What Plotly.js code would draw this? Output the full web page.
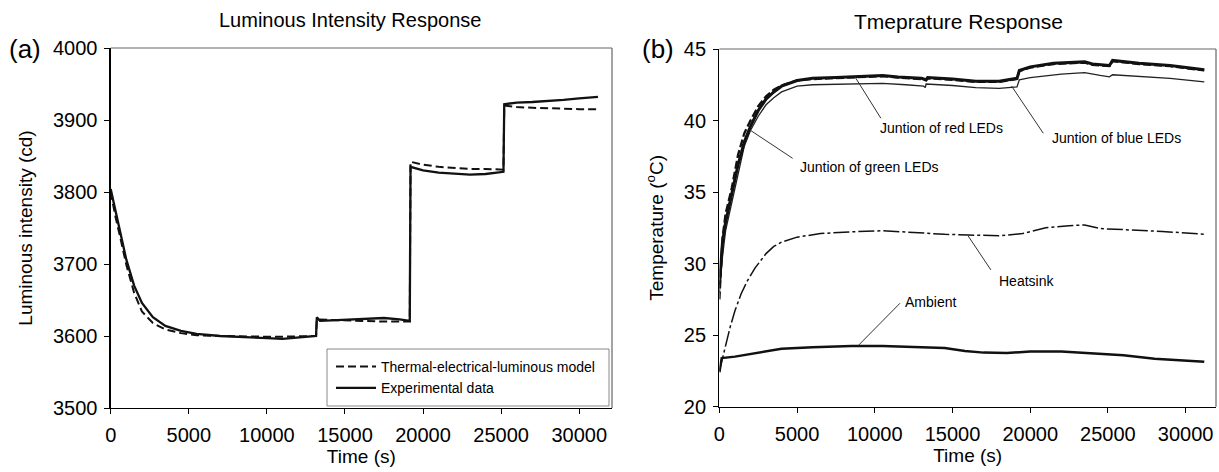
<!DOCTYPE html>
<html><head><meta charset="utf-8">
<script src="https://cdn.plot.ly/plotly-3.0.1.min.js"></script>
<style>html,body{margin:0;padding:0;background:#fff}#chart{width:1219px;height:472px}</style>
</head><body><div id="chart"></div>
<script>
// ---------- Panel (a): luminous intensity ----------
const timeModel = [0,300,600,1000,1500,2000,2700,3500,4500,5500,7000,8500,10000,11000,12000,13150,13200,14500,16000,17500,18500,19150,19200,20000,21000,22000,23000,24000,25150,25200,26000,27000,28000,29000,30000,31200];
const lumModel  = [3800,3766,3738,3699,3660,3634,3618,3609,3604,3601,3600,3599,3599,3599,3599,3600,3623,3622,3621,3620,3620,3620,3842,3838,3835,3833,3832,3832,3831,3920,3918,3917,3916,3915,3915,3915];
const timeExp = [0,300,600,1000,1500,2000,2700,3500,4500,5500,7000,8500,10000,11000,12000,13150,13200,13400,14500,16000,17500,18500,19150,19200,20000,21000,22000,23000,24000,25150,25200,26000,27000,28000,29000,30000,31200];
const lumExp  = [3804,3775,3747,3706,3670,3646,3626,3614,3607,3603,3600,3599,3597,3596,3598,3600,3626,3621,3622,3624,3625,3623,3621,3835,3830,3827,3825,3824,3825,3828,3922,3924,3925,3926,3928,3930,3932];

// ---------- Panel (b): temperatures ----------
const timeRed = [0,200,400,800,1200,1600,2000,2500,3000,3500,4000,5000,6000,7500,9000,10500,11500,13000,13300,13400,15000,16500,18000,19150,19300,20000,21500,23500,24000,25100,25300,27000,29000,31200];
const tempRed = [28.5,31.5,32.9,34.8,36.9,38.5,39.6,40.7,41.5,42.0,42.4,42.8,42.95,43.0,43.05,43.15,43.05,42.95,42.85,43.0,42.9,42.75,42.75,42.95,43.5,43.75,44.0,44.1,43.95,43.85,44.2,44.0,43.85,43.55];
const timeGreen = [0,200,400,800,1200,1600,2000,2500,3000,3500,4000,5000,6000,7500,9000,10500,11500,13000,13300,13400,15000,16500,18000,19150,19300,20000,21500,23500,24000,25100,25300,27000,29000,31200];
const tempGreen = [27.5,31.8,33.5,35.3,37.6,39.1,40.0,41.0,41.7,42.15,42.45,42.8,42.9,42.95,43.0,43.1,43.0,42.9,42.8,42.95,42.85,42.7,42.7,42.9,43.45,43.7,43.95,44.05,43.9,43.8,44.15,43.95,43.8,43.5];
const timeBlue = [0,200,400,800,1200,1600,2000,2500,3000,3500,4000,5000,6000,7500,9000,10500,12000,13150,13250,13300,15000,16500,18000,19150,19300,20000,22000,23500,24500,25100,25300,27000,29000,31200];
const tempBlue = [28.0,30.5,32.3,34.3,36.4,38.2,39.3,40.3,41.1,41.6,42.0,42.4,42.5,42.55,42.6,42.6,42.5,42.4,42.3,42.55,42.45,42.3,42.25,42.35,42.85,43.0,43.25,43.35,43.15,43.05,43.2,43.1,42.95,42.7];
const timeHeatsink = [0,200,400,700,1000,1400,1800,2300,3000,3500,4000,5000,6500,8000,10500,12500,14500,16000,18000,19500,21000,22500,23500,24500,26500,28500,31200];
const tempHeatsink = [22.5,23.4,24.4,25.6,26.7,27.9,28.8,29.7,30.7,31.2,31.5,31.85,32.1,32.2,32.3,32.15,32.05,32.0,31.95,32.1,32.5,32.65,32.7,32.45,32.35,32.25,32.05];
const timeAmbient = [0,150,1000,2000,4000,6000,8500,10500,12500,14500,15800,17000,18500,20000,22000,24000,26000,28000,31200];
const tempAmbient = [22.4,23.4,23.5,23.7,24.05,24.15,24.25,24.25,24.15,24.1,23.9,23.78,23.75,23.85,23.85,23.75,23.6,23.35,23.15];

// labels for panel (b)
const labelText = ["Juntion of red LEDs","Juntion of blue LEDs","Juntion of green LEDs","Heatsink","Ambient"];
const labelX = [14300,25560,9685,19770,13610];
const labelY = [39.46,38.76,36.78,28.79,27.34];
const leaderX0 = [10390,20840,4710,17470,11620];
const leaderY0 = [40.16,39.11,37.36,29.56,27.23];
const leaderX1 = [8720,18800,1963,16010,8930];
const leaderY1 = [43.06,42.41,39.34,31.93,24.27];

const FONT = 'Arial, "Liberation Sans", sans-serif';
const W = 1219, H = 472;

const traces = [
  {x: timeModel, y: lumModel, xaxis:'x', yaxis:'y', mode:'lines', name:'Thermal-electrical-luminous model',
   line:{color:'#111', width:2, dash:'8px,4px'}},
  {x: timeExp, y: lumExp, xaxis:'x', yaxis:'y', mode:'lines', name:'Experimental data',
   line:{color:'#111', width:2.3}},
  {x: timeBlue, y: tempBlue, xaxis:'x2', yaxis:'y2', mode:'lines', showlegend:false,
   line:{color:'#222', width:1.3}},
  {x: timeGreen, y: tempGreen, xaxis:'x2', yaxis:'y2', mode:'lines', showlegend:false,
   line:{color:'#111', width:2.3, dash:'8px,3px'}},
  {x: timeRed, y: tempRed, xaxis:'x2', yaxis:'y2', mode:'lines', showlegend:false,
   line:{color:'#111', width:3}},
  {x: timeHeatsink, y: tempHeatsink, xaxis:'x2', yaxis:'y2', mode:'lines', showlegend:false,
   line:{color:'#111', width:1.5, dash:'16px,3px,3px,3px'}},
  {x: timeAmbient, y: tempAmbient, xaxis:'x2', yaxis:'y2', mode:'lines', showlegend:false,
   line:{color:'#111', width:2.5}}
];

const axisCommon = {
  showgrid:false, zeroline:false, showline:true, linecolor:'#000', linewidth:1.3,
  ticks:'outside', ticklen:5, tickwidth:1, tickcolor:'#000',
  tickfont:{family:FONT, size:20, color:'#000'}
};

const annotations = [
  {text:'Luminous Intensity Response', xref:'paper', yref:'paper', x:350/W, y:1-20/H, showarrow:false,
   font:{family:FONT, size:20, color:'#000'}, xanchor:'center', yanchor:'middle'},
  {text:'Tmeprature Response', xref:'paper', yref:'paper', x:958/W, y:1-22/H, showarrow:false,
   font:{family:FONT, size:21, color:'#000'}, xanchor:'center', yanchor:'middle'},
  {text:'(a)', xref:'paper', yref:'paper', x:25/W, y:1-49/H, showarrow:false,
   font:{family:FONT, size:26, color:'#000'}, xanchor:'center', yanchor:'middle'},
  {text:'(b)', xref:'paper', yref:'paper', x:658/W, y:1-49/H, showarrow:false,
   font:{family:FONT, size:26, color:'#000'}, xanchor:'center', yanchor:'middle'}
];
const shapes = [];
for (let i = 0; i < labelText.length; i++) {
  annotations.push({text: labelText[i], xref:'x2', yref:'y2', x: labelX[i], y: labelY[i], showarrow:false,
    font:{family:FONT, size:14, color:'#000'}, xanchor:'center', yanchor:'middle'});
  shapes.push({type:'line', xref:'x2', yref:'y2', x0: leaderX0[i], y0: leaderY0[i], x1: leaderX1[i], y1: leaderY1[i],
    line:{color:'#333', width:1}});
}
// frame top/right (grey) for both panels
for (const ax of ['x','x2']) {
  const ya = ax === 'x' ? 'y' : 'y2';
  shapes.push({type:'line', xref: ax+' domain', yref: ya+' domain', x0:0, x1:1, y0:1, y1:1, line:{color:'#666', width:1.2}});
  shapes.push({type:'line', xref: ax+' domain', yref: ya+' domain', x0:1, x1:1, y0:0, y1:1, line:{color:'#666', width:1.2}});
}
// legend box
shapes.push({type:'rect', xref:'paper', yref:'paper', x0:327/W, x1:609/W, y0:1-406/H, y1:1-349/H,
  line:{color:'#888', width:1}, fillcolor:'rgba(0,0,0,0)', layer:'above'});

const layout = {
  width:W, height:H,
  margin:{l:0, r:0, t:0, b:0},
  paper_bgcolor:'#fff', plot_bgcolor:'#fff',
  showlegend:true,
  font:{family:FONT, color:'#000'},
  xaxis: Object.assign({}, axisCommon, {domain:[110.7/W, 612/W], range:[0, 32100], dtick:5000, tick0:0, tickformat:'d',
    ticklabelstandoff:4, anchor:'y', title:{text:'Time (s)', font:{family:FONT, size:19, color:'#000'}, standoff:4}}),
  yaxis: Object.assign({}, axisCommon, {domain:[64/H, 424/H], range:[3500, 4000], dtick:100, tickformat:'d',
    ticklabelstandoff:3, anchor:'x', title:{text:'Luminous intensity (cd)', font:{family:FONT, size:19, color:'#000'}, standoff:15}}),
  xaxis2: Object.assign({}, axisCommon, {domain:[719.4/W, 1216/W], range:[0, 31955], dtick:5000, tick0:0, tickformat:'d',
    ticklabelstandoff:4, anchor:'y2', title:{text:'Time (s)', font:{family:FONT, size:19, color:'#000'}, standoff:4}}),
  yaxis2: Object.assign({}, axisCommon, {domain:[65.3/H, 423/H], range:[20, 45], dtick:5,
    ticklabelstandoff:3, anchor:'x2', title:{text:'Temperature (<sup>o</sup>C)', font:{family:FONT, size:19, color:'#000'}, standoff:15}}),
  legend:{x:331/W, y:1-351/H, xanchor:'left', yanchor:'top', bgcolor:'rgba(0,0,0,0)',
    borderwidth:0, itemwidth:40, font:{family:FONT, size:14, color:'#000'}, tracegroupgap:0},
  annotations: annotations,
  shapes: shapes
};

Plotly.newPlot('chart', traces, layout, {displayModeBar:false, staticPlot:true});
</script></body></html>
